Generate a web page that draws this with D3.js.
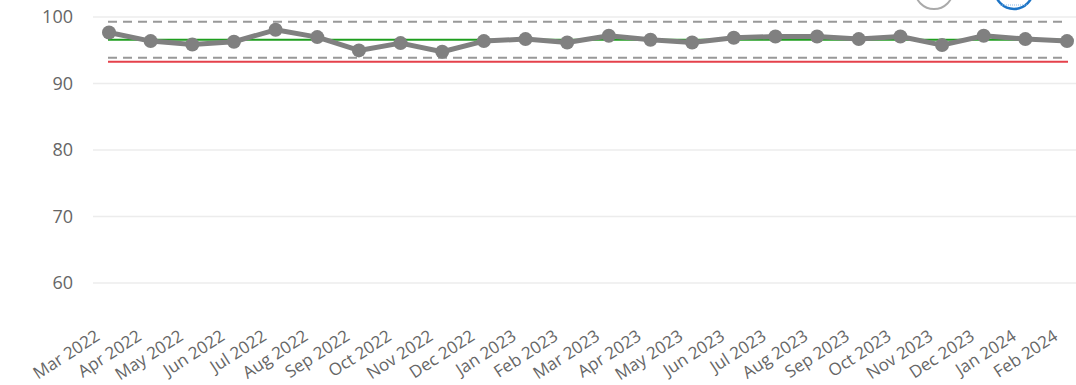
<!DOCTYPE html>
<html>
<head>
<meta charset="utf-8">
<script src="https://cdn.jsdelivr.net/npm/d3@7"></script>
<style>
  html, body { margin: 0; padding: 0; background: #fff; }
  svg { display: block; }
  text { font-family: "Open Sans", "DejaVu Sans", sans-serif; fill: #666; }
</style>
</head>
<body>
<svg id="chart" width="1076" height="385"></svg>
<script>
// Monthly percentage values with control limits
const months = ["Mar 2022","Apr 2022","May 2022","Jun 2022","Jul 2022","Aug 2022","Sep 2022","Oct 2022","Nov 2022","Dec 2022","Jan 2023","Feb 2023","Mar 2023","Apr 2023","May 2023","Jun 2023","Jul 2023","Aug 2023","Sep 2023","Oct 2023","Nov 2023","Dec 2023","Jan 2024","Feb 2024"];
const values = [97.6, 96.3, 95.8, 96.2, 98.0, 96.9, 94.9, 96.0, 94.7, 96.3, 96.6, 96.1, 97.1, 96.5, 96.1, 96.8, 97.0, 97.0, 96.6, 97.0, 95.7, 97.1, 96.6, 96.3];
const meanLine = [96.5];
const upperLimit = [99.2];
const lowerLimit = [93.8];
const targetLine = [93.2];
const yTicks = [60, 70, 80, 90, 100];

const svg = d3.select("#chart");

const x = d3.scalePoint().domain(months).range([109, 1067]);
const y = d3.scaleLinear().domain([60, 100]).range([282.5, 16.5]);

// Horizontal gridlines and y labels
const yAxis = d3.axisLeft(y).tickValues(yTicks).tickSize(-(1076 - 93)).tickPadding(20);
const gy = svg.append("g").attr("transform", "translate(93,0)").call(yAxis);
gy.select(".domain").remove();
gy.selectAll(".tick line").attr("stroke", "#ececec").attr("stroke-width", 1.5);
gy.selectAll(".tick text").attr("font-size", 18).attr("fill", "#666").attr("dy", "0.36em");

// Legend markers at the top edge
svg.append("circle").attr("cx", 934).attr("cy", -10).attr("r", 19)
  .attr("fill", "#fff").attr("stroke", "#aaa").attr("stroke-width", 2);
svg.append("circle").attr("cx", 1014).attr("cy", -10).attr("r", 19)
  .attr("fill", "#fff").attr("stroke", "#1c74c6").attr("stroke-width", 2.5);
svg.append("line").attr("x1", 1000).attr("x2", 1028).attr("y1", 5).attr("y2", 5)
  .attr("stroke", "#8ab8e6").attr("stroke-width", 1).attr("stroke-dasharray", "1,1");

const x0 = x(months[0]) - 1, x1 = x(months[months.length - 1]) + 1;

// Reference lines
function hline(v, color, width, dash) {
  const l = svg.append("line")
    .attr("x1", x0).attr("x2", x1)
    .attr("y1", y(v)).attr("y2", y(v))
    .attr("stroke", color).attr("stroke-width", width);
  if (dash) l.attr("stroke-dasharray", dash);
}
hline(upperLimit[0], "#999", 2, "9,6");
hline(lowerLimit[0], "#999", 2, "9,6");
hline(targetLine[0], "#e5414b", 2);
hline(meanLine[0], "#1f9e1f", 2);

// Series line and markers
const line = d3.line().x((d, i) => x(months[i])).y(d => y(d));
svg.append("path").datum(values)
  .attr("d", line).attr("fill", "none")
  .attr("stroke", "#808080").attr("stroke-width", 5).attr("stroke-linejoin", "round");
svg.selectAll("circle.pt").data(values).join("circle").attr("class", "pt")
  .attr("cx", (d, i) => x(months[i])).attr("cy", d => y(d)).attr("r", 7)
  .attr("fill", "#808080");

// Rotated month labels
svg.append("g").selectAll("text").data(months).join("text")
  .attr("transform", d => `translate(${x(d) - 8},339) rotate(-33)`)
  .attr("text-anchor", "end")
  .attr("font-size", 17)
  .attr("fill", "#666")
  .text(d => d);
</script>
</body>
</html>
